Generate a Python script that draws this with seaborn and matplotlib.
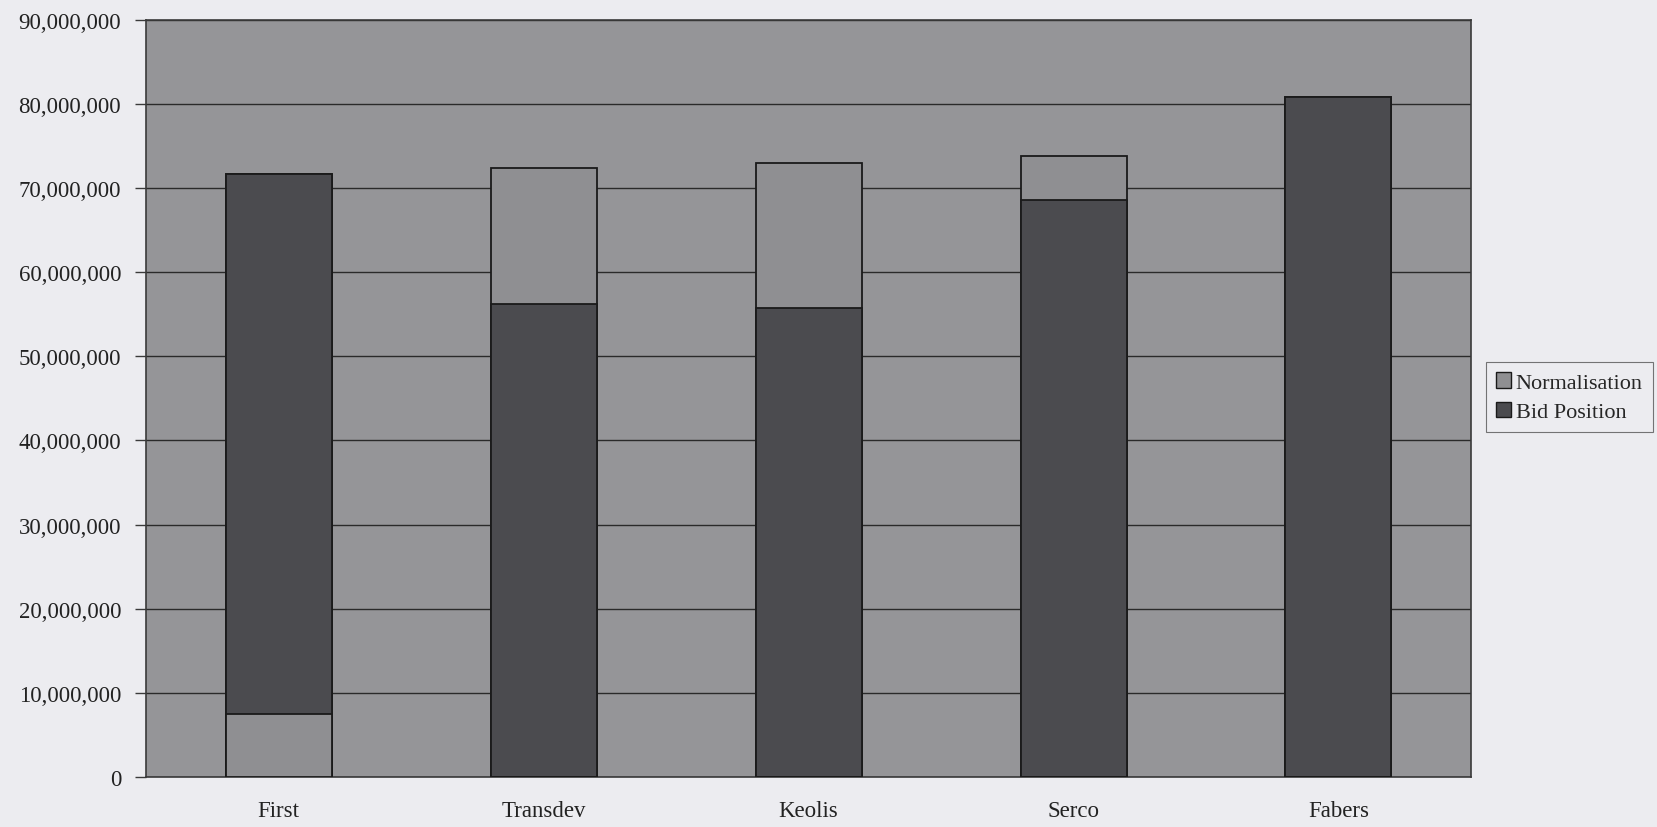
import numpy as np
import pandas as pd
import seaborn as sns
import matplotlib.pyplot as plt
from matplotlib.patches import Patch
from matplotlib.ticker import FuncFormatter

# values
bidders = ['First', 'Transdev', 'Keolis', 'Serco', 'Fabers']
norm_below = [7500000, 0, 0, 0, 0]
bid_position = [64200000, 56200000, 55700000, 68600000, 80900000]
norm_above = [0, 16200000, 17300000, 5200000, 0]

PAPER = '#ececf0'
PLOT_BG = '#959598'
NORM_COL = '#8f8f92'
BID_COL = '#4b4b4f'
EDGE = '#1a1a1a'


def build_frame():
    df = pd.DataFrame({'bidder': bidders,
                       'below': norm_below,
                       'bid': bid_position,
                       'above': norm_above})
    df['lvl1'] = df['below']
    df['lvl2'] = df['below'] + df['bid']
    df['lvl3'] = df['lvl2'] + df['above']
    return df


def draw_chart(df):
    sns.set_style('white')
    plt.rcParams['font.family'] = ['Liberation Serif', 'DejaVu Serif']
    fig = plt.figure(figsize=(16.58, 8.28), dpi=100, facecolor=PAPER)
    ax = fig.add_axes([0.0881, 0.0607, 0.7991, 0.9139])
    ax.set_facecolor(PLOT_BG)
    ax.set_axisbelow(True)

    # layered bars give the stacked look: total, then bid top, then bottom norm
    for col, colour in [('lvl3', NORM_COL), ('lvl2', BID_COL), ('lvl1', NORM_COL)]:
        sns.barplot(data=df, x='bidder', y=col, order=bidders, color=colour,
                    width=0.4, edgecolor=EDGE, linewidth=1.3, ax=ax,
                    saturation=1, errorbar=None, zorder=3)

    ax.set_ylim(0, 90000000)
    ax.set_xlim(-0.5, len(bidders) - 0.5)
    ax.set_yticks(np.arange(0, 90000001, 10000000))
    ax.yaxis.set_major_formatter(FuncFormatter(lambda v, p: f'{int(v):,}'))
    ax.yaxis.grid(True, color='#2a2a2a', linewidth=1.0)
    ax.set_xlabel('')
    ax.set_ylabel('')

    for s in ax.spines.values():
        s.set_color('#3a3a3a')
        s.set_linewidth(1.2)

    # category boundary ticks on x axis, labels centred under bars
    ax.set_xticks(np.arange(len(bidders)))
    ax.set_xticklabels(bidders)
    ax.set_xticks(np.arange(len(bidders) + 1) - 0.5, minor=True)
    ax.tick_params(axis='x', which='major', length=0, pad=17, labelsize=16.5,
                   labelcolor='#222222')
    ax.tick_params(axis='x', which='minor', length=8, width=1, color='#3a3a3a',
                   direction='out')
    ax.tick_params(axis='y', length=8, width=1, color='#3a3a3a', direction='out',
                   labelsize=16.5, labelcolor='#222222', pad=10, left=True)

    handles = [Patch(facecolor=NORM_COL, edgecolor=EDGE, label='Normalisation'),
               Patch(facecolor=BID_COL, edgecolor=EDGE, label='Bid Position')]
    leg = fig.legend(handles=handles, loc='center left',
                     bbox_to_anchor=(0.896, 0.519), frameon=True, fancybox=False,
                     fontsize=16, handlelength=0.7, handleheight=0.7,
                     handletextpad=0.2, borderpad=0.45, labelspacing=0.4,
                     borderaxespad=0)
    leg.get_frame().set_edgecolor('#555555')
    leg.get_frame().set_facecolor(PAPER)
    leg.get_frame().set_linewidth(0.8)

    fig.savefig('out.png', dpi=100, facecolor=PAPER)


def main():
    df = build_frame()
    draw_chart(df)


if __name__ == "__main__":
    main()
